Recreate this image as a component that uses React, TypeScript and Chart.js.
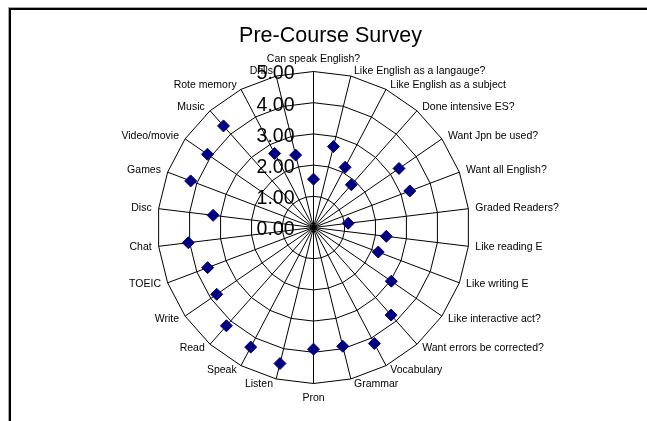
import React, { useEffect, useRef } from 'react';
import { Chart, registerables } from 'chart.js';

Chart.register(...registerables);

const TITLE = 'Pre-Course Survey';

const CATEGORIES = [
  'Can speak English?',
  'Like English as a langauge?',
  'Like English as a subject',
  'Done intensive ES?',
  'Want Jpn be used?',
  'Want all English?',
  'Graded Readers?',
  'Like reading E',
  'Like writing E',
  'Like interactive act?',
  'Want errors be corrected?',
  'Vocabulary',
  'Grammar',
  'Pron',
  'Listen',
  'Speak',
  'Read',
  'Write',
  'TOEIC',
  'Chat',
  'Disc',
  'Games',
  'Video/movie',
  'Music',
  'Rote memory',
  'Drills',
];

const VALUES = [
  1.55, 2.67, 2.18, 1.83, 3.33, 3.3, 1.12, 2.35, 2.22, 3.03, 3.75, 4.2, 3.92,
  3.9, 4.49, 4.33, 4.21, 3.77, 3.63, 4.04, 3.24, 4.21, 4.13, 4.35, 2.68, 2.39,
];

const TICK_VALUES = [0, 1, 2, 3, 4, 5];
const TICK_LABELS = ['0.00', '1.00', '2.00', '3.00', '4.00', '5.00'];

const FONT = '"Liberation Sans", Arial, sans-serif';

const labelPlugin = {
  id: 'excelLabels',
  afterDraw(chart: any) {
    const scale = chart.scales.r;
    const ctx = chart.ctx;
    ctx.save();
    ctx.fillStyle = '#000';
    ctx.font = `10.5px ${FONT}`;
    ctx.textBaseline = 'middle';
    const n = CATEGORIES.length;
    for (let i = 0; i < n; i++) {
      const p = scale.getPointPosition(i, scale.drawingArea + 5);
      const deg = (scale.getIndexAngle(i) * 180) / Math.PI;
      let x = p.x;
      let y = p.y;
      let align: CanvasTextAlign = 'center';
      if (deg < 1 || deg > 359) {
        y -= 7.5;
      } else if (Math.abs(deg - 180) < 1) {
        y += 10;
      } else if (deg < 180) {
        align = 'left';
        x += 2;
      } else {
        align = 'right';
        x -= 2;
      }
      ctx.textAlign = align;
      ctx.fillText(CATEGORIES[i], x, y);
    }
    ctx.font = `19.5px ${FONT}`;
    ctx.textAlign = 'right';
    TICK_VALUES.forEach((v, k) => {
      const d = scale.getDistanceFromCenterForValue(v);
      ctx.fillText(TICK_LABELS[k], scale.xCenter - 19, scale.yCenter - d + 2.5);
    });
    ctx.restore();
  },
};

export default function App() {
  const ref = useRef<HTMLCanvasElement | null>(null);

  useEffect(() => {
    if (!ref.current) return;
    const chart = new Chart(ref.current, {
      type: 'radar',
      data: {
        labels: CATEGORIES,
        datasets: [
          {
            label: 'Survey',
            data: VALUES,
            showLine: false,
            fill: false,
            borderWidth: 0,
            pointStyle: 'rectRot',
            pointRadius: 6,
            pointHoverRadius: 6,
            pointBackgroundColor: '#000080',
            pointBorderColor: '#000080',
            pointBorderWidth: 1,
          } as any,
        ],
      },
      options: {
        responsive: false,
        animation: false,
        devicePixelRatio: 1,
        layout: { padding: { left: 14, right: 0, top: 0, bottom: 0 } },
        plugins: {
          legend: { display: false },
          tooltip: { enabled: false },
          title: {
            display: true,
            text: TITLE,
            color: '#000',
            font: { size: 21.5, family: FONT, weight: 'normal' },
            padding: { top: 23, bottom: 0 },
          },
        },
        scales: {
          r: {
            min: 0,
            max: 5,
            ticks: { display: false, stepSize: 1 },
            pointLabels: { display: false },
            grid: { color: '#000', lineWidth: 1 },
            angleLines: { color: '#000', lineWidth: 1 },
            afterFit: (scale: any) => {
              scale.xCenter = 313.5;
              scale.yCenter = 227.5;
              scale.drawingArea = 156;
            },
          } as any,
        },
      },
      plugins: [labelPlugin],
    });
    return () => chart.destroy();
  }, []);

  return (
    <div
      style={{
        position: 'fixed',
        left: 0,
        top: 0,
        width: 647,
        height: 421,
        background: '#fff',
        overflow: 'hidden',
      }}
    >
      <div
        style={{
          position: 'absolute',
          left: 8,
          top: 7,
          width: 700,
          height: 500,
          borderTop: '1px solid #a8a8a8',
          borderLeft: '1px solid #a8a8a8',
        }}
      />
      <div
        style={{
          position: 'absolute',
          left: 9,
          top: 8,
          width: 700,
          height: 500,
          borderTop: '2px solid #000',
          borderLeft: '2px solid #000',
        }}
      />
      <canvas
        ref={ref}
        width={647}
        height={421}
        style={{ position: 'absolute', left: 0, top: 0, width: 647, height: 421 }}
      />
    </div>
  );
}
